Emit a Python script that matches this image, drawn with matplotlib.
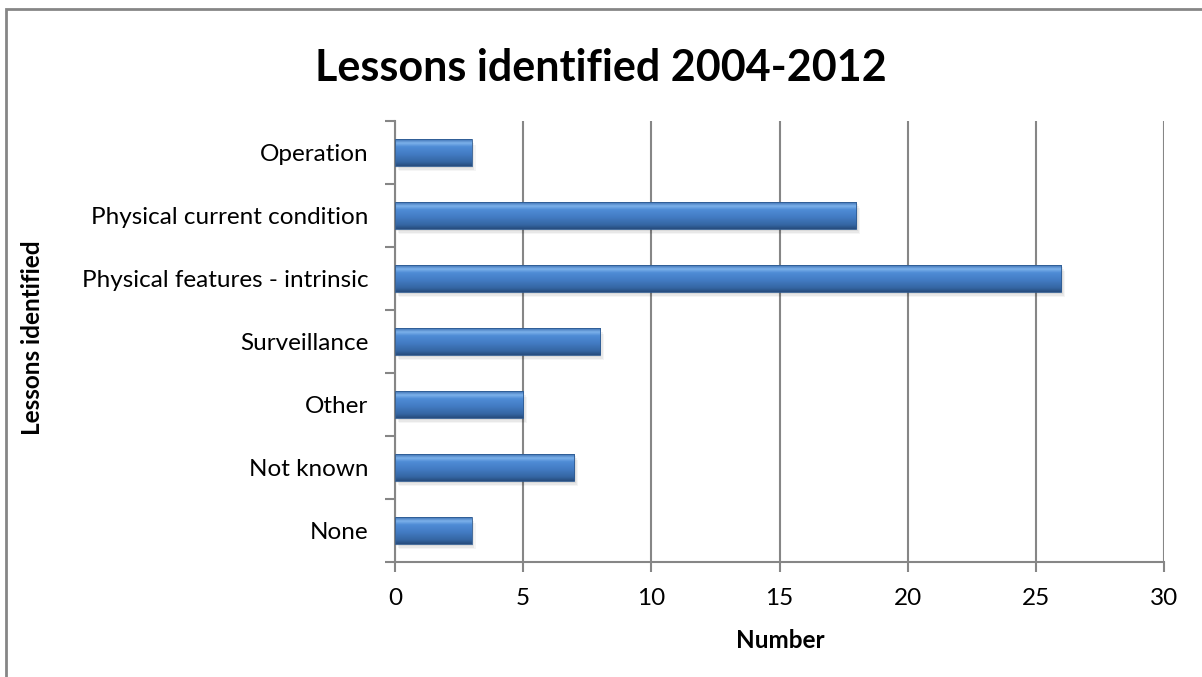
import numpy as np
import matplotlib
matplotlib.use("Agg")
from matplotlib import pyplot as plt
from matplotlib.colors import LinearSegmentedColormap
from matplotlib.patches import Rectangle

categories = ["None", "Not known", "Other", "Surveillance",
              "Physical features - intrinsic", "Physical current condition", "Operation"]
counts = [3, 7, 5, 8, 26, 18, 3]
x_ticks = [0, 5, 10, 15, 20, 25, 30]

plt.rcParams['font.family'] = ['Lato', 'DejaVu Sans']
grey = "#868686"

fig = plt.figure(figsize=(12.02, 6.77), dpi=100)
ax = fig.add_axes([395 / 1202, 1 - 562 / 677, (1164 - 395) / 1202, (562 - 121) / 677])

# frame round the whole chart
fig.patches.append(Rectangle((6 / 1202, -0.05), 1.1, 1 - 9 / 677 + 0.05,
                             transform=fig.transFigure, fill=False,
                             edgecolor=grey, linewidth=2, zorder=0))

# bevelled blue bars: vertical gradient, light top edge, dark bottom
bar_cmap = LinearSegmentedColormap.from_list("bar", [
    (0.0, "#274d7e"), (0.15, "#3566a3"), (0.45, "#437cc4"),
    (0.72, "#4f8cd6"), (0.86, "#7cb1ea"), (1.0, "#3c70b2")])
grad = np.linspace(1, 0, 64).reshape(-1, 1)
h = 0.42
y_pos = np.arange(len(categories))
bars = ax.barh(y_pos, counts, height=h, color="none", edgecolor="#2f5b91",
               linewidth=0.6, zorder=3)
for bar, y, w in zip(bars, y_pos, counts):
    # soft drop shadow under each bar
    for k, a in enumerate([0.06, 0.05, 0.04]):
        d = 0.03 * (k + 1)
        ax.add_patch(Rectangle((0.05 * (k + 1), y - h / 2 - d), w, h,
                               facecolor="#000000", alpha=a, edgecolor="none", zorder=2))
    im = ax.imshow(grad, cmap=bar_cmap, aspect="auto", origin="upper",
                   extent=(0, w, y - h / 2, y + h / 2), zorder=2.5)
    im.set_clip_path(bar)

ax.set_xlim(0, 30)
ax.set_ylim(-0.5, len(categories) - 0.5)
ax.set_xticks(x_ticks)
ax.set_xticklabels([str(t) for t in x_ticks], fontsize=17.5)
ax.set_yticks(y_pos)
ax.set_yticklabels(categories, fontsize=17.5)
ax.set_yticks(np.arange(-0.5, len(categories)), minor=True)
ax.tick_params(axis="y", which="major", length=0, pad=19)
ax.tick_params(axis="y", which="minor", length=7, color=grey, width=1.5)
ax.tick_params(axis="x", length=7, color=grey, width=1.5, pad=12)

ax.grid(axis="x", color=grey, linewidth=1.5, zorder=1)
ax.set_axisbelow(True)
for side in ["top", "right"]:
    ax.spines[side].set_visible(False)
for side in ["left", "bottom"]:
    ax.spines[side].set_color(grey)
    ax.spines[side].set_linewidth(1.5)

fig.text(780 / 1202, 1 - 640 / 677, "Number", fontsize=17.5, fontweight="bold",
         ha="center", va="center")
fig.text(33 / 1202, 1 - 338 / 677, "Lessons identified", rotation=90,
         fontsize=17.5, fontweight="bold", ha="center", va="center")
fig.text(601 / 1202, 1 - 68 / 677, "Lessons identified 2004-2012",
         fontsize=31, fontweight="bold", ha="center", va="center")

plt.savefig("out.png", dpi=100)
